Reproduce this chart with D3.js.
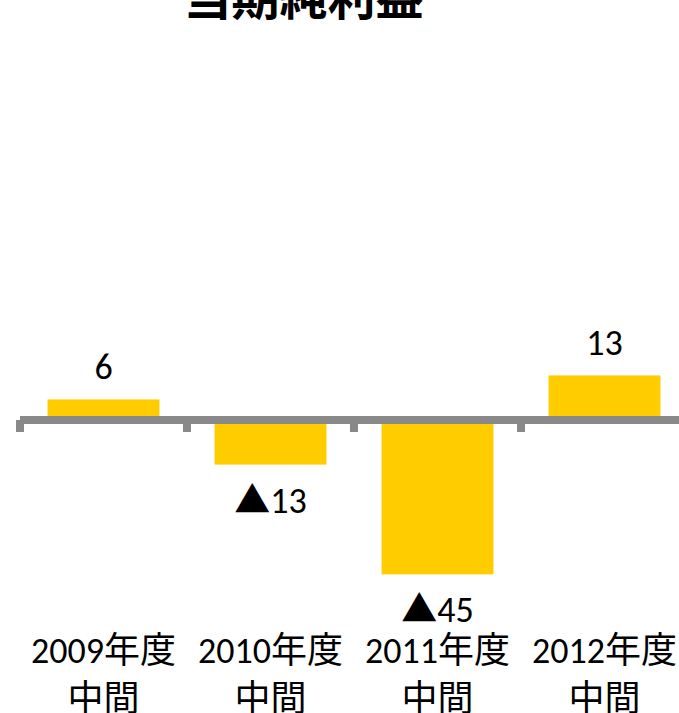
<!DOCTYPE html>
<html>
<head>
<meta charset="utf-8">
<script src="https://cdn.jsdelivr.net/npm/d3@7"></script>
<style>
  html, body { margin: 0; padding: 0; background: #fff; }
  svg { display: block; }
  text { font-family: Carlito, "Noto Sans CJK JP", "Noto Sans", sans-serif; fill: #000; }
</style>
</head>
<body>
<svg id="chart" width="679" height="713"></svg>
<script>
const title = "当期純利益";
const categories = ["2009年度", "2010年度", "2011年度", "2012年度"];
const subLabels = ["中間", "中間", "中間", "中間"];
const values = [6, -13, -45, 13];
const valueLabels = ["6", "▲13", "▲45", "13"];

const svg = d3.select("#chart");

const x = d3.scaleBand()
  .domain(categories)
  .range([20, 688])
  .paddingInner(0.33)
  .paddingOuter(0.165);

const y = d3.scaleLinear()
  .domain([-60, 60])
  .range([625.8, 214.2]);

// title
svg.append("text")
  .attr("x", 303.5)
  .attr("y", 15)
  .attr("text-anchor", "middle")
  .attr("font-size", 48)
  .attr("font-weight", "bold")
  .style("font-family", "'Noto Sans CJK JP', sans-serif")
  .text(title);

const data = categories.map((c, i) => ({ c, v: values[i], label: valueLabels[i], sub: subLabels[i] }));

// bars
svg.append("g").selectAll("rect")
  .data(data)
  .join("rect")
  .attr("x", d => x(d.c))
  .attr("width", x.bandwidth())
  .attr("y", d => y(Math.max(0, d.v)))
  .attr("height", d => Math.abs(y(d.v) - y(0)))
  .attr("fill", "#FFCC00");

// axis line and ticks at band boundaries
const y0 = y(0);
const axisG = svg.append("g");
const boundaries = categories.map(c => x(c) - x.step() * x.paddingInner() / 2);
axisG.append("line")
  .attr("x1", boundaries[0])
  .attr("x2", x.range()[1])
  .attr("y1", y0).attr("y2", y0)
  .attr("stroke", "#898989")
  .attr("stroke-width", 8);
axisG.selectAll("line.tick")
  .data(boundaries)
  .join("line")
  .attr("class", "tick")
  .attr("x1", d => d).attr("x2", d => d)
  .attr("y1", y0).attr("y2", y0 + 12)
  .attr("stroke", "#898989")
  .attr("stroke-width", 8);

// value labels
svg.append("g").selectAll("text")
  .data(data)
  .join("text")
  .attr("x", d => x(d.c) + x.bandwidth() / 2)
  .attr("y", d => d.v >= 0 ? y(d.v) - 20 : y(d.v) + 48)
  .attr("text-anchor", "middle")
  .attr("font-size", 36)
  .text(d => d.label);

// category labels
const catG = svg.append("g");
catG.selectAll("text.cat")
  .data(data)
  .join("text")
  .attr("class", "cat")
  .attr("x", d => x(d.c) + x.bandwidth() / 2)
  .attr("y", 663)
  .attr("text-anchor", "middle")
  .attr("font-size", 36)
  .text(d => d.c);
catG.selectAll("text.sub")
  .data(data)
  .join("text")
  .attr("class", "sub")
  .attr("x", d => x(d.c) + x.bandwidth() / 2)
  .attr("y", 711)
  .attr("text-anchor", "middle")
  .attr("font-size", 36)
  .text(d => d.sub);
</script>
</body>
</html>
